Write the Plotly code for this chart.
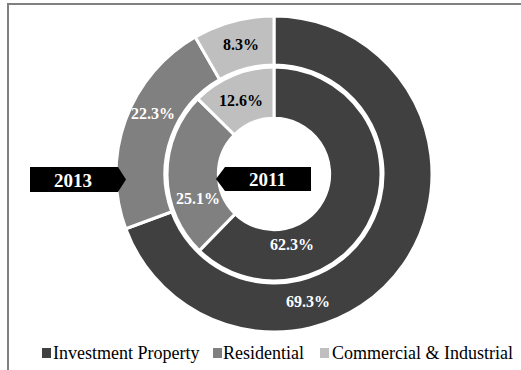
import plotly.graph_objects as go

# ---- data ----
categories = ["Investment Property", "Residential", "Commercial & Industrial"]
share_2013 = [69.3, 22.3, 8.3]
share_2011 = [62.3, 25.1, 12.6]
ring_years = ["2013", "2011"]

# ---- styling ----
W, H = 521, 370
SLICE_COLORS = ["#404040", "#808080", "#bfbfbf"]
TEXT_COLORS = ["white", "white", "black"]
SERIF = "Liberation Serif, Times New Roman, serif"

CX, CY = 274, 174          # pie centre (px)
R_OUTER, R_INNER = 158, 107

# label anchor points (px) for each ring, in category order
LABEL_XY_2013 = [(308, 301), (153, 114), (241, 45)]
LABEL_XY_2011 = [(292, 244), (198, 198), (241, 100)]


def px(x):
    return x / W


def py(y):
    return 1 - y / H


def ring(values, radius, hole, name):
    return go.Pie(
        values=values,
        labels=categories,
        name=name,
        hole=hole,
        sort=False,
        direction="clockwise",
        rotation=0,
        textinfo="none",
        showlegend=False,
        marker=dict(colors=SLICE_COLORS, line=dict(color="white", width=3)),
        domain=dict(
            x=[px(CX - radius), px(CX + radius)],
            y=[py(CY + radius), py(CY - radius)],
        ),
    )


fig = go.Figure()
fig.add_trace(ring(share_2013, R_OUTER, 0.69, ring_years[0]))
fig.add_trace(ring(share_2011, R_INNER, 0.52, ring_years[1]))

annotations = []
shapes = []

# value labels on the slices
for values, spots in ((share_2013, LABEL_XY_2013), (share_2011, LABEL_XY_2011)):
    for v, (x, y), col in zip(values, spots, TEXT_COLORS):
        annotations.append(dict(
            x=px(x), y=py(y), xref="paper", yref="paper",
            text=f"<b>{v:.1f}%</b>", showarrow=False,
            font=dict(family=SERIF, size=16, color=col),
            xanchor="center", yanchor="middle",
        ))


def path(points):
    return "M " + " L ".join(f"{px(x)},{py(y)}" for x, y in points) + " Z"


# year tags: arrow-shaped black boxes
tag_2013 = [(30, 167), (118, 167), (126, 179.5), (118, 192), (30, 192)]
tag_2011 = [(216, 179), (225, 167), (311, 167), (311, 191), (225, 191)]
for pts in (tag_2013, tag_2011):
    shapes.append(dict(type="path", xref="paper", yref="paper", path=path(pts),
                       fillcolor="black", line=dict(width=0)))

for year, (x, y) in zip(ring_years, [(73, 180), (267, 179.5)]):
    annotations.append(dict(
        x=px(x), y=py(y), xref="paper", yref="paper",
        text=f"<b>{year}</b>", showarrow=False,
        font=dict(family=SERIF, size=19, color="white"),
        xanchor="center", yanchor="middle",
    ))

# outer frame (left and top edges)
shapes.append(dict(
    type="path", xref="paper", yref="paper",
    path=f"M {px(8)},{py(H + 2)} L {px(8)},{py(4)} L {px(W + 2)},{py(4)}",
    line=dict(color="#808080", width=2),
))

# legend drawn as colour squares plus labels
legend_items = [(42, 51), (213, 221), (320, 330)]
for (sq_x, tx), cat, col in zip(legend_items, categories, SLICE_COLORS):
    shapes.append(dict(type="rect", xref="paper", yref="paper",
                       x0=px(sq_x), x1=px(sq_x + 9), y0=py(358), y1=py(348),
                       fillcolor=col, line=dict(width=0)))
    annotations.append(dict(
        x=px(tx), y=py(353), xref="paper", yref="paper",
        text=cat, showarrow=False,
        font=dict(family=SERIF, size=18, color="black"),
        xanchor="left", yanchor="middle",
    ))

fig.update_layout(
    width=W, height=H,
    margin=dict(l=0, r=0, t=0, b=0),
    paper_bgcolor="white",
    plot_bgcolor="white",
    annotations=annotations,
    shapes=shapes,
)

fig.write_html("out.html")
